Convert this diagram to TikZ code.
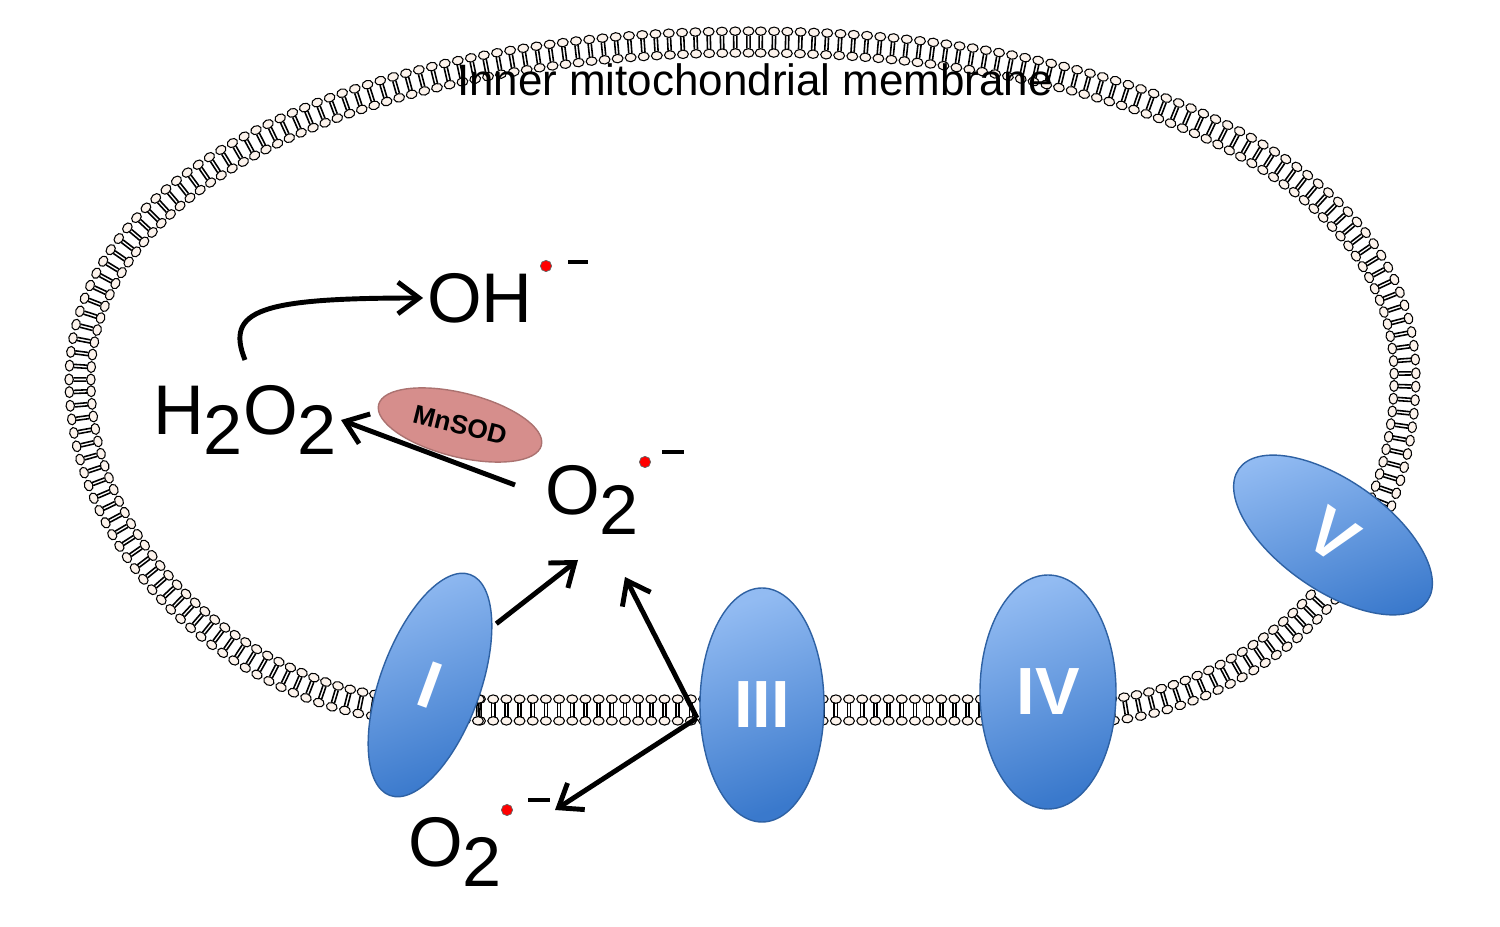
\documentclass[tikz,border=0pt]{standalone}
\usepackage{fontspec}
\setmainfont{Liberation Sans}
\usetikzlibrary{arrows.meta,positioning,shapes.geometric,decorations.markings}
\definecolor{headfill}{HTML}{FCF3EC}
\definecolor{protL}{HTML}{92BBF2}
\definecolor{protD}{HTML}{3A79CC}
\definecolor{sodfill}{HTML}{D68E8C}
\newcommand{\lowtwo}{\raisebox{-0.55ex}{2}}
\tikzset{
    lipid/.style={
        postaction={decorate},
        decoration={markings,
            mark=between positions 0 and 1 step 3.75pt with {
                \draw[line width=0.45pt] (-0.45pt,1.9pt) -- (-0.45pt,-1.9pt)
                    (0.45pt,1.9pt) -- (0.45pt,-1.9pt);
                \draw[fill=headfill,line width=0.3pt] (0,3.1pt) ellipse (1.55pt and 1.2pt);
                \draw[fill=headfill,line width=0.3pt] (0,-3.1pt) ellipse (1.55pt and 1.2pt);
            }
        }
    },
    complex/.style={
        ellipse,
        draw=protD!80!black,
        thin,
        top color=protL,
        bottom color=protD,
        shading angle=20,
        text=white,
        font=\fontsize{19}{19}\selectfont\bfseries,
        inner sep=0pt
    },
    species/.style={
        font=\fontsize{20}{22}\selectfont,
        inner sep=1pt
    },
    radical/.style={
        circle,
        fill=red,
        draw=black!60,
        line width=0.2pt,
        minimum size=3.2pt,
        inner sep=0pt
    },
    charge/.style={
        draw=black,
        line width=1.4pt
    },
    react/.style={
        -{Straight Barb[length=6pt,width=9pt,line width=1.4pt]},
        line width=1.4pt
    },
}
\begin{document}
\begin{tikzpicture}[x=0.1mm, y=-0.1mm]
    \useasboundingbox (0,0) rectangle (1500,927);

    % membrane
    \path[lipid] (480,710) -- (1110,710)
        .. controls (1250,695) and (1402,575) .. (1405,380)
        .. controls (1408,160) and (1100,42) .. (750,42)
        .. controls (380,42) and (80,170) .. (80,380)
        .. controls (80,560) and (250,690) .. (380,706) -- (480,710);
    \node[font=\fontsize{12.5}{13}\selectfont] (memlabel) at (755,80) {Inner mitochondrial membrane};

    % complexes
    \node[complex, minimum width=100\pgflinewidth, minimum width=10mm, minimum height=23.5mm, rotate=-20] (cI) at (430,685) {I};
    \node[complex, minimum width=12.4mm, minimum height=23.4mm] (cIII) at (762,705) {III};
    \node[complex, minimum width=13.6mm, minimum height=23.4mm] (cIV) at (1048,692) {IV};
    \node[complex, minimum width=23mm, minimum height=11mm, rotate=-35] (cV) at (1333,535) {V};

    % species
    \node[species] (oh) at (480,298) {OH};
    \node[radical] (ohdot) at (546,266) {};
    \draw[charge] (568,262) -- (588,262);

    \node[species] (h2o2) at (245,420) {H\lowtwo O\lowtwo};

    \node[species] (o2m) at (592,500) {O\lowtwo};
    \node[radical] (o2mdot) at (645,462) {};
    \draw[charge] (662,452) -- (684,452);

    \node[species] (o2b) at (455,852) {O\lowtwo};
    \node[radical] (o2bdot) at (507,810) {};
    \draw[charge] (528,800) -- (550,800);

    \node[ellipse, fill=sodfill, draw=sodfill!80!black, thin, minimum width=13.4mm, minimum height=6.4mm,
        rotate=-14, font=\fontsize{7.5}{8}\selectfont\bfseries] (sod) at (460,425) {MnSOD};

    % arrows
    \coordinate (IIIsrc) at (697,718);
    \coordinate (o2mtail) at (515,485);
    \coordinate (h2o2tail) at (245,360);
    \draw[react] (o2mtail) -- (h2o2.east);
    \draw[react] (h2o2tail) .. controls (225,310) and (260,298) .. (oh.west);
    \draw[react] (cI.north east) ++(4,5) coordinate (Itail) -- (578,560);
    \draw[react] (IIIsrc) -- (625,577);
    \draw[react] (IIIsrc) -- (555,810);
\end{tikzpicture}
\end{document}
